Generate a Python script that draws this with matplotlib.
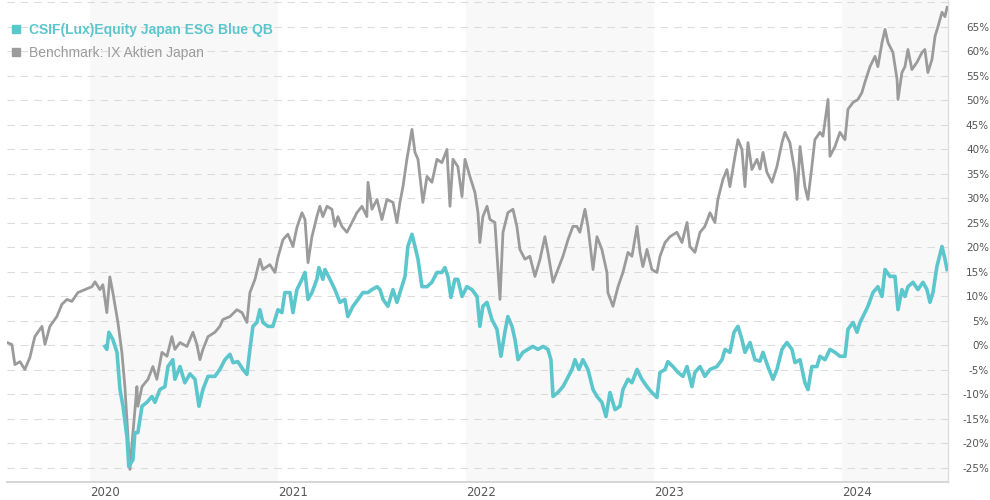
import matplotlib
matplotlib.use("Agg")
import matplotlib.pyplot as plt
from matplotlib.lines import Line2D

# ---------------- data (time in decimal years, performance in %) ----------------
bench_t = [2019.559, 2019.585, 2019.601, 2019.628, 2019.654, 2019.681, 2019.707, 2019.745, 2019.761, 2019.787,
           2019.824, 2019.851, 2019.878, 2019.904, 2019.936, 2019.973, 2020.011, 2020.027, 2020.053, 2020.069,
           2020.090, 2020.106, 2020.122, 2020.149, 2020.170, 2020.186, 2020.202, 2020.213, 2020.229, 2020.250,
           2020.255, 2020.277, 2020.309, 2020.335, 2020.356, 2020.383, 2020.410, 2020.436, 2020.452, 2020.479,
           2020.516, 2020.548, 2020.569, 2020.585, 2020.601, 2020.628, 2020.665, 2020.691, 2020.707, 2020.745,
           2020.782, 2020.809, 2020.835, 2020.851, 2020.878, 2020.904, 2020.920, 2020.957, 2020.984, 2021.000,
           2021.027, 2021.053, 2021.080, 2021.101, 2021.128, 2021.144, 2021.160, 2021.181, 2021.207, 2021.223,
           2021.239, 2021.261, 2021.287, 2021.303, 2021.319, 2021.340, 2021.367, 2021.394, 2021.420, 2021.447,
           2021.473, 2021.479, 2021.500, 2021.527, 2021.553, 2021.580, 2021.612, 2021.633, 2021.649, 2021.665,
           2021.686, 2021.713, 2021.729, 2021.745, 2021.771, 2021.793, 2021.819, 2021.846, 2021.872, 2021.899,
           2021.915, 2021.931, 2021.957, 2021.979, 2021.995, 2022.021, 2022.048, 2022.064, 2022.074, 2022.090,
           2022.112, 2022.128, 2022.154, 2022.181, 2022.197, 2022.223, 2022.250, 2022.271, 2022.287, 2022.314,
           2022.340, 2022.367, 2022.394, 2022.420, 2022.436, 2022.463, 2022.489, 2022.516, 2022.543, 2022.569,
           2022.590, 2022.606, 2022.633, 2022.649, 2022.676, 2022.697, 2022.723, 2022.750, 2022.755, 2022.782,
           2022.809, 2022.835, 2022.862, 2022.883, 2022.910, 2022.926, 2022.941, 2022.963, 2022.989, 2023.016,
           2023.032, 2023.059, 2023.085, 2023.122, 2023.149, 2023.176, 2023.191, 2023.218, 2023.245, 2023.271,
           2023.298, 2023.324, 2023.340, 2023.367, 2023.388, 2023.404, 2023.431, 2023.447, 2023.468, 2023.484,
           2023.500, 2023.521, 2023.548, 2023.564, 2023.580, 2023.601, 2023.628, 2023.654, 2023.681, 2023.697,
           2023.723, 2023.750, 2023.761, 2023.777, 2023.803, 2023.819, 2023.840, 2023.856, 2023.883, 2023.899,
           2023.926, 2023.936, 2023.963, 2023.989, 2024.016, 2024.032, 2024.059, 2024.085, 2024.106, 2024.122,
           2024.149, 2024.176, 2024.191, 2024.213, 2024.229, 2024.245, 2024.271, 2024.293, 2024.298, 2024.319,
           2024.335, 2024.351, 2024.372, 2024.399, 2024.426, 2024.441, 2024.457, 2024.479, 2024.495, 2024.511,
           2024.532, 2024.548, 2024.559]
bench_v = [0.6, 0.2, -3.9, -3.3, -4.9, -2.4, 1.8, 3.9, 0.2, 3.9,
           5.9, 8.4, 9.4, 9.0, 10.8, 11.4, 12.0, 13.0, 11.4, 12.4,
           6.7, 14.0, 10.8, 4.7, -1.4, -8.4, -18.6, -25.3, -17.8, -8.4,
           -12.4, -8.4, -6.9, -4.3, -6.9, -1.4, -2.2, 1.8, -0.8, 0.6,
           -0.2, 2.7, 0.2, -2.9, -0.8, 1.8, 2.7, 3.9, 5.3, 5.9,
           7.3, 6.7, 4.7, 10.8, 13.5, 17.6, 15.5, 16.5, 14.9, 18.0,
           21.6, 22.7, 20.2, 24.1, 27.1, 25.7, 16.9, 22.2, 26.3, 28.4,
           26.3, 28.4, 27.8, 24.3, 26.3, 24.3, 23.1, 25.1, 27.1, 28.4,
           26.3, 33.3, 27.8, 29.8, 25.7, 29.8, 29.2, 25.1, 29.2, 32.4,
           38.0, 44.1, 39.4, 38.0, 29.2, 34.5, 33.3, 38.0, 37.3, 40.0,
           28.4, 38.0, 36.5, 30.4, 38.0, 34.5, 31.2, 27.1, 21.0, 26.3,
           28.4, 25.7, 25.1, 9.4, 23.1, 27.1, 27.8, 24.3, 19.6, 17.6,
           18.2, 14.1, 17.6, 22.2, 19.0, 12.9, 15.5, 18.2, 21.6, 24.3,
           24.3, 23.1, 27.8, 24.3, 15.5, 22.2, 19.6, 14.9, 10.8, 8.0,
           12.0, 14.9, 19.0, 18.2, 24.3, 19.0, 16.1, 19.6, 15.5, 14.9,
           18.2, 21.0, 22.2, 23.1, 21.0, 25.1, 20.2, 19.0, 23.1, 24.3,
           27.1, 25.1, 29.8, 33.9, 35.9, 32.4, 38.6, 42.0, 40.0, 32.4,
           41.4, 35.9, 38.0, 36.0, 39.4, 35.3, 33.3, 36.5, 41.4, 43.5,
           41.4, 35.3, 29.8, 40.6, 32.4, 29.8, 36.5, 42.0, 43.5, 42.7,
           50.2, 38.6, 40.6, 43.5, 42.0, 48.2, 49.6, 50.2, 51.6, 53.7,
           56.9, 59.0, 56.9, 61.8, 64.5, 61.8, 59.8, 54.3, 50.2, 55.7,
           56.9, 60.4, 56.3, 57.8, 59.8, 60.4, 55.7, 58.4, 63.1, 65.1,
           68.0, 67.1, 69.0]

fund_t = [2020.080, 2020.090, 2020.101, 2020.122, 2020.144, 2020.160, 2020.176, 2020.197, 2020.207, 2020.229,
          2020.239, 2020.255, 2020.277, 2020.303, 2020.330, 2020.346, 2020.372, 2020.399, 2020.415, 2020.441,
          2020.452, 2020.479, 2020.505, 2020.532, 2020.559, 2020.580, 2020.601, 2020.628, 2020.665, 2020.691,
          2020.718, 2020.745, 2020.761, 2020.787, 2020.814, 2020.835, 2020.851, 2020.867, 2020.888, 2020.904,
          2020.920, 2020.947, 2020.973, 2021.000, 2021.021, 2021.037, 2021.064, 2021.080, 2021.101, 2021.128,
          2021.144, 2021.160, 2021.181, 2021.207, 2021.218, 2021.239, 2021.250, 2021.277, 2021.303, 2021.330,
          2021.356, 2021.372, 2021.399, 2021.426, 2021.452, 2021.479, 2021.500, 2021.527, 2021.543, 2021.559,
          2021.585, 2021.612, 2021.633, 2021.649, 2021.676, 2021.691, 2021.713, 2021.729, 2021.745, 2021.766,
          2021.793, 2021.819, 2021.846, 2021.872, 2021.888, 2021.904, 2021.920, 2021.941, 2021.957, 2021.979,
          2022.005, 2022.032, 2022.059, 2022.074, 2022.090, 2022.112, 2022.138, 2022.165, 2022.186, 2022.207,
          2022.223, 2022.245, 2022.261, 2022.277, 2022.303, 2022.330, 2022.356, 2022.383, 2022.410, 2022.436,
          2022.452, 2022.463, 2022.489, 2022.516, 2022.537, 2022.564, 2022.580, 2022.601, 2022.622, 2022.649,
          2022.676, 2022.697, 2022.723, 2022.745, 2022.766, 2022.793, 2022.819, 2022.835, 2022.862, 2022.883,
          2022.910, 2022.936, 2022.963, 2022.989, 2023.016, 2023.032, 2023.059, 2023.074, 2023.101, 2023.128,
          2023.154, 2023.176, 2023.202, 2023.218, 2023.245, 2023.271, 2023.298, 2023.335, 2023.362, 2023.378,
          2023.404, 2023.426, 2023.447, 2023.468, 2023.484, 2023.511, 2023.537, 2023.564, 2023.580, 2023.606,
          2023.633, 2023.654, 2023.681, 2023.707, 2023.734, 2023.750, 2023.777, 2023.803, 2023.819, 2023.840,
          2023.867, 2023.883, 2023.910, 2023.936, 2023.963, 2023.989, 2024.016, 2024.032, 2024.059, 2024.080,
          2024.096, 2024.122, 2024.138, 2024.165, 2024.191, 2024.213, 2024.229, 2024.255, 2024.282, 2024.298,
          2024.319, 2024.335, 2024.351, 2024.378, 2024.404, 2024.431, 2024.452, 2024.468, 2024.484, 2024.505,
          2024.532, 2024.548, 2024.559]
fund_v = [-0.2, -0.8, 2.7, 1.2, -1.4, -9.0, -12.4, -18.6, -24.7, -23.3,
          -17.8, -17.8, -12.4, -11.6, -10.4, -11.6, -9.0, -8.4, -4.3, -2.9,
          -6.9, -4.3, -7.6, -5.8, -6.9, -12.4, -9.0, -6.3, -6.3, -4.9,
          -2.9, -1.8, -3.5, -3.3, -4.9, -5.9, -0.8, 3.9, 4.7, 7.3,
          4.7, 3.9, 3.9, 7.3, 6.7, 10.8, 10.8, 6.7, 11.4, 13.5,
          14.9, 9.4, 10.8, 13.5, 15.9, 13.5, 15.5, 13.5, 11.4, 8.8,
          9.4, 5.9, 8.0, 9.4, 10.8, 10.8, 11.4, 12.0, 11.4, 9.4,
          8.0, 11.4, 8.8, 10.8, 14.1, 20.2, 22.7, 20.2, 17.6, 12.0,
          12.0, 12.9, 14.9, 14.9, 15.9, 14.1, 9.8, 13.5, 13.5, 10.0,
          12.0, 11.4, 10.0, 3.9, 8.0, 8.8, 5.3, 3.3, -2.2, 2.7,
          5.9, 3.9, 1.2, -2.9, -1.4, -0.8, -0.2, -0.8, -0.2, -0.8,
          -2.9, -10.4, -9.6, -8.4, -6.9, -4.9, -2.9, -4.9, -2.9, -4.9,
          -9.0, -10.4, -11.6, -14.5, -9.6, -13.1, -12.4, -9.0, -6.9, -7.6,
          -4.9, -6.9, -8.4, -9.6, -10.6, -5.5, -4.9, -3.3, -4.3, -5.5,
          -6.3, -4.3, -8.4, -5.5, -4.3, -6.3, -4.9, -4.3, -2.9, -0.8,
          -1.4, 2.7, 3.9, 1.2, -1.4, 0.6, -2.9, -3.2, -1.4, -4.3,
          -6.9, -4.9, -0.8, 0.6, -0.8, -3.5, -2.9, -7.6, -9.0, -4.3,
          -4.3, -2.2, -2.9, -0.8, -1.4, -2.2, -2.2, 3.3, 4.7, 2.7,
          4.7, 6.7, 8.0, 10.8, 12.0, 10.0, 15.5, 14.1, 14.1, 7.3,
          11.4, 10.0, 12.0, 12.9, 11.4, 12.9, 11.4, 8.8, 10.8, 16.1,
          20.2, 17.6, 15.5]

fund_label = "CSIF(Lux)Equity Japan ESG Blue QB"
bench_label = "Benchmark: IX Aktien Japan"
year_ticks = [2020, 2021, 2022, 2023, 2024]
y_ticks = list(range(-25, 71, 5))

# ---------------- styling ----------------
FUND_COLOR = "#5cc6cd"
BENCH_COLOR = "#9b9b9b"
SHADE = "#f8f8f8"
GRID = "#dcdcdc"

fig = plt.figure(figsize=(9.9, 5.0), dpi=100)
ax = fig.add_axes([7 / 990, 18 / 500, 941 / 990, 482 / 500])

x_min, x_max = 2019.559, 2024.564
ax.set_xlim(x_min, x_max)
ax.set_ylim(-27.86, 70.5)

# alternating year bands (even years shaded)
for yr in year_ticks:
    if yr % 2 == 0:
        ax.axvspan(yr, min(yr + 1, x_max), color=SHADE, zorder=0, lw=0)

ax.set_yticks(y_ticks)
ax.set_yticklabels([f"{v}%" if v <= 65 else "" for v in y_ticks])
ax.grid(axis="y", color=GRID, linestyle=(0, (6.7, 5.3)), linewidth=0.8, zorder=1)
ax.set_axisbelow(True)

ax.plot(bench_t, bench_v, color=BENCH_COLOR, lw=2.0, zorder=3, solid_joinstyle="round")
ax.plot(fund_t, fund_v, color=FUND_COLOR, lw=2.6, zorder=4, solid_joinstyle="round")

# axes cosmetics
for s in ["top", "left"]:
    ax.spines[s].set_visible(False)
ax.spines["bottom"].set_color("#d6d6d6")
ax.spines["bottom"].set_linewidth(1.4)
ax.spines["right"].set_color("#dedede")
ax.spines["right"].set_linewidth(1.0)

ax.set_xticks(year_ticks)
ax.set_xticklabels([str(y) for y in year_ticks])
ax.tick_params(axis="x", length=0, pad=3, labelsize=8.5, labelcolor="#555555")
for lbl in ax.get_xticklabels():
    lbl.set_horizontalalignment("left")
    lbl.set_fontfamily("DejaVu Sans")

ax.yaxis.tick_right()
ax.tick_params(axis="y", length=0, pad=29.5, labelsize=7.5, labelcolor="#555555")
for lbl in ax.get_yticklabels():
    lbl.set_horizontalalignment("right")
    lbl.set_fontfamily("DejaVu Sans")

# legend
handles = [Line2D([], [], marker="s", linestyle="none", markersize=5.5, color=FUND_COLOR),
           Line2D([], [], marker="s", linestyle="none", markersize=5.5, color=BENCH_COLOR)]
leg = ax.legend(handles, [fund_label, bench_label], loc="upper left",
                bbox_to_anchor=(10 / 990, 1 - 23 / 500), bbox_transform=fig.transFigure,
                frameon=False, handlelength=0.8, handletextpad=0.6, labelspacing=0.67,
                borderpad=0, borderaxespad=0,
                prop={"family": "Liberation Sans", "size": 10})
txts = leg.get_texts()
txts[0].set_color(FUND_COLOR)
txts[0].set_fontweight("bold")
txts[1].set_color(BENCH_COLOR)
leg.set_zorder(10)

fig.savefig("out.png", dpi=100)
